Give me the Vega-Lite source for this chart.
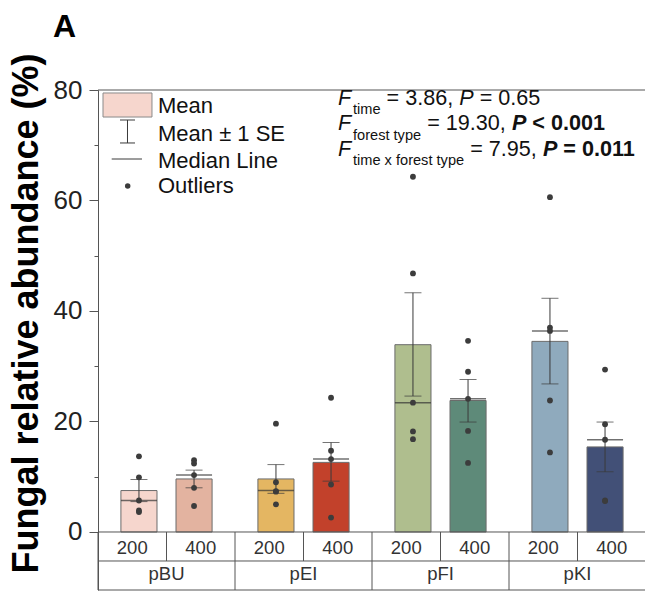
{
  "$schema": "https://vega.github.io/schema/vega-lite/v6.json",
  "autosize": {"type": "none"},
  "padding": {"left": 98, "top": 90, "right": 0, "bottom": 4},
  "width": 548,
  "height": 500,
  "config": {"view": {"stroke": null}, "font": "Liberation Sans"},
  "datasets": {
    "summary": [
      {"group": "pBU", "time": "200", "cell": "pBU 200", "mean": 7.5, "se_low": 5.5, "se_high": 9.5, "median": 5.7},
      {"group": "pBU", "time": "400", "cell": "pBU 400", "mean": 9.6, "se_low": 8.0, "se_high": 11.2, "median": 10.3},
      {"group": "pEI", "time": "200", "cell": "pEI 200", "mean": 9.6, "se_low": 7.0, "se_high": 12.2, "median": 7.5},
      {"group": "pEI", "time": "400", "cell": "pEI 400", "mean": 12.6, "se_low": 9.2, "se_high": 16.2, "median": 13.2},
      {"group": "pFI", "time": "200", "cell": "pFI 200", "mean": 33.9, "se_low": 24.6, "se_high": 43.3, "median": 23.4},
      {"group": "pFI", "time": "400", "cell": "pFI 400", "mean": 23.8, "se_low": 19.9, "se_high": 27.6, "median": 24.1},
      {"group": "pKI", "time": "200", "cell": "pKI 200", "mean": 34.5, "se_low": 26.8, "se_high": 42.3, "median": 36.4},
      {"group": "pKI", "time": "400", "cell": "pKI 400", "mean": 15.4, "se_low": 10.9, "se_high": 19.9, "median": 16.7}
    ],
    "points": [
      {"group": "pBU", "time": "200", "value": 13.7}, {"group": "pBU", "time": "200", "value": 9.9}, {"group": "pBU", "time": "200", "value": 5.7}, {"group": "pBU", "time": "200", "value": 3.9}, {"group": "pBU", "time": "200", "value": 3.6},
      {"group": "pBU", "time": "400", "value": 13.0}, {"group": "pBU", "time": "400", "value": 12.4}, {"group": "pBU", "time": "400", "value": 10.3}, {"group": "pBU", "time": "400", "value": 8.0}, {"group": "pBU", "time": "400", "value": 4.7},
      {"group": "pEI", "time": "200", "value": 19.6}, {"group": "pEI", "time": "200", "value": 9.0}, {"group": "pEI", "time": "200", "value": 7.4}, {"group": "pEI", "time": "200", "value": 7.3}, {"group": "pEI", "time": "200", "value": 5.0},
      {"group": "pEI", "time": "400", "value": 24.3}, {"group": "pEI", "time": "400", "value": 14.7}, {"group": "pEI", "time": "400", "value": 13.2}, {"group": "pEI", "time": "400", "value": 8.6}, {"group": "pEI", "time": "400", "value": 2.6},
      {"group": "pFI", "time": "200", "value": 64.3}, {"group": "pFI", "time": "200", "value": 46.8}, {"group": "pFI", "time": "200", "value": 23.4}, {"group": "pFI", "time": "200", "value": 18.2}, {"group": "pFI", "time": "200", "value": 16.8},
      {"group": "pFI", "time": "400", "value": 34.6}, {"group": "pFI", "time": "400", "value": 29.0}, {"group": "pFI", "time": "400", "value": 24.1}, {"group": "pFI", "time": "400", "value": 18.3}, {"group": "pFI", "time": "400", "value": 12.5},
      {"group": "pKI", "time": "200", "value": 60.6}, {"group": "pKI", "time": "200", "value": 37.0}, {"group": "pKI", "time": "200", "value": 36.4}, {"group": "pKI", "time": "200", "value": 23.8}, {"group": "pKI", "time": "200", "value": 14.4},
      {"group": "pKI", "time": "400", "value": 29.4}, {"group": "pKI", "time": "400", "value": 19.5}, {"group": "pKI", "time": "400", "value": 16.7}, {"group": "pKI", "time": "400", "value": 5.7}, {"group": "pKI", "time": "400", "value": 5.6}
    ]
  },
  "layer": [
    {
      "data": {"name": "summary"},
      "layer": [
        {
          "mark": {"type": "bar", "stroke": "#6b6b6b", "strokeWidth": 1},
          "encoding": {
            "x": {"field": "group", "type": "nominal", "scale": {"domain": ["pBU", "pEI", "pFI", "pKI"], "paddingInner": 0, "paddingOuter": 0}, "axis": null},
            "xOffset": {"field": "time", "type": "nominal", "scale": {"domain": ["200", "400"], "paddingInner": 0.345, "paddingOuter": 0.416}},
            "y": {
              "field": "mean", "type": "quantitative",
              "scale": {"domain": [-10.5, 80], "nice": false, "zero": false},
              "title": "Fungal relative abundance (%)",
              "axis": {
                "values": [0, 10, 20, 30, 40, 50, 60, 70, 80],
                "labelExpr": "datum.value % 20 === 0 ? datum.label : ''",
                "tickSize": {"condition": {"test": "datum.value % 20 === 0", "value": 9}, "value": 4},
                "labelFontSize": 26, "labelColor": "#222", "labelPadding": 7,
                "tickColor": "#555", "domainColor": "#555", "grid": false,
                "titleFontSize": 36, "titleFontWeight": "bold", "titleColor": "#000",
                "titleX": -61, "titleY": 223, "titleBaseline": "alphabetic", "titleAngle": -90, "titleAlign": "center"
              }
            },
            "y2": {"datum": 0},
            "color": {
              "field": "cell", "type": "nominal", "legend": null,
              "scale": {
                "domain": ["pBU 200", "pBU 400", "pEI 200", "pEI 400", "pFI 200", "pFI 400", "pKI 200", "pKI 400"],
                "range": ["#f6d6cd", "#e3b3a0", "#e4b662", "#c2412b", "#afbe8e", "#5e8a79", "#8faabd", "#425077"]
              }
            }
          }
        },
        {
          "mark": {"type": "rule", "color": "#3a3a3a", "strokeWidth": 1},
          "encoding": {
            "x": {"field": "group", "type": "nominal", "axis": null},
            "xOffset": {"field": "time", "type": "nominal"},
            "y": {"field": "se_low", "type": "quantitative"},
            "y2": {"field": "se_high"}
          }
        },
        {
          "mark": {"type": "tick", "color": "#3a3a3a", "thickness": 1, "size": 17},
          "encoding": {
            "x": {"field": "group", "type": "nominal", "axis": null},
            "xOffset": {"field": "time", "type": "nominal"},
            "y": {"field": "se_high", "type": "quantitative"}
          }
        },
        {
          "mark": {"type": "tick", "color": "#3a3a3a", "thickness": 1, "size": 17},
          "encoding": {
            "x": {"field": "group", "type": "nominal", "axis": null},
            "xOffset": {"field": "time", "type": "nominal"},
            "y": {"field": "se_low", "type": "quantitative"}
          }
        },
        {
          "mark": {"type": "tick", "color": "#333", "thickness": 1.5, "size": 36},
          "encoding": {
            "x": {"field": "group", "type": "nominal", "axis": null},
            "xOffset": {"field": "time", "type": "nominal"},
            "y": {"field": "median", "type": "quantitative"}
          }
        },
        {
          "data": {"name": "points"},
          "mark": {"type": "circle", "size": 34, "color": "#3c3c3c", "opacity": 1},
          "encoding": {
            "x": {"field": "group", "type": "nominal", "axis": null},
            "xOffset": {"field": "time", "type": "nominal"},
            "y": {"field": "value", "type": "quantitative"}
          }
        },
        {
          "transform": [{"filter": "datum.time === '200'"}],
          "mark": {"type": "rule", "color": "#555", "strokeWidth": 1},
          "encoding": {
            "x": {"field": "group", "type": "nominal", "bandPosition": 0, "axis": null},
            "y": {"datum": 0},
            "y2": {"datum": -10.5}
          }
        },
        {
          "transform": [{"filter": "datum.time === '200'"}],
          "mark": {"type": "rule", "color": "#555", "strokeWidth": 1},
          "encoding": {
            "x": {"field": "group", "type": "nominal", "bandPosition": 0.5, "axis": null},
            "y": {"datum": 0},
            "y2": {"datum": -5.25}
          }
        },
        {
          "transform": [{"filter": "datum.time === '200'"}],
          "mark": {"type": "text", "fontSize": 18.5, "color": "#333", "baseline": "alphabetic", "align": "center"},
          "encoding": {
            "x": {"field": "group", "type": "nominal", "bandPosition": 0.25, "axis": null},
            "y": {"datum": -4.07},
            "text": {"field": "time"}
          }
        },
        {
          "transform": [{"filter": "datum.time === '400'"}],
          "mark": {"type": "text", "fontSize": 18.5, "color": "#333", "baseline": "alphabetic", "align": "center"},
          "encoding": {
            "x": {"field": "group", "type": "nominal", "bandPosition": 0.75, "axis": null},
            "y": {"datum": -4.07},
            "text": {"field": "time"}
          }
        },
        {
          "transform": [{"filter": "datum.time === '200'"}],
          "mark": {"type": "text", "fontSize": 18.5, "color": "#333", "baseline": "alphabetic", "align": "center"},
          "encoding": {
            "x": {"field": "group", "type": "nominal", "bandPosition": 0.5, "axis": null},
            "y": {"datum": -8.78},
            "text": {"field": "group"}
          }
        }
      ]
    },
    {
      "data": {"values": [{}]},
      "layer": [
        {"mark": {"type": "rule", "color": "#555", "strokeWidth": 1}, "encoding": {"y": {"datum": 80}}},
        {"mark": {"type": "rule", "color": "#555", "strokeWidth": 1}, "encoding": {"y": {"datum": 0}}},
        {"mark": {"type": "rule", "color": "#555", "strokeWidth": 1}, "encoding": {"y": {"datum": -5.25}}},
        {"mark": {"type": "rule", "color": "#555", "strokeWidth": 1}, "encoding": {"y": {"datum": -10.5}}},
        {
          "mark": {"type": "rect", "fill": "#f6d6cd", "stroke": "#8a8a8a", "strokeWidth": 1},
          "encoding": {
            "x": {"datum": 0.0365, "type": "quantitative", "scale": {"domain": [0, 4]}, "axis": null},
            "x2": {"datum": 0.394},
            "y": {"datum": 79.46},
            "y2": {"datum": 75.11}
          }
        },
        {
          "mark": {"type": "rule", "color": "#3a3a3a", "strokeWidth": 1},
          "encoding": {
            "x": {"datum": 0.2153, "type": "quantitative", "scale": {"domain": [0, 4]}, "axis": null},
            "y": {"datum": 74.57},
            "y2": {"datum": 70.41}
          }
        },
        {
          "mark": {"type": "rule", "color": "#3a3a3a", "strokeWidth": 1},
          "encoding": {
            "x": {"datum": 0.1606, "type": "quantitative", "scale": {"domain": [0, 4]}, "axis": null},
            "x2": {"datum": 0.2701},
            "y": {"datum": 74.57}
          }
        },
        {
          "mark": {"type": "rule", "color": "#3a3a3a", "strokeWidth": 1},
          "encoding": {
            "x": {"datum": 0.1606, "type": "quantitative", "scale": {"domain": [0, 4]}, "axis": null},
            "x2": {"datum": 0.2701},
            "y": {"datum": 70.41}
          }
        },
        {
          "mark": {"type": "rule", "color": "#3a3a3a", "strokeWidth": 1},
          "encoding": {
            "x": {"datum": 0.1, "type": "quantitative", "scale": {"domain": [0, 4]}, "axis": null},
            "x2": {"datum": 0.321},
            "y": {"datum": 67.51}
          }
        },
        {
          "mark": {"type": "circle", "size": 30, "color": "#3c3c3c", "opacity": 1},
          "encoding": {
            "x": {"datum": 0.2168, "type": "quantitative", "scale": {"domain": [0, 4]}, "axis": null},
            "y": {"datum": 62.62}
          }
        },
        {
          "mark": {"type": "text", "text": "Mean", "fontSize": 22, "align": "left", "baseline": "alphabetic", "color": "#111"},
          "encoding": {"x": {"datum": 0.438, "type": "quantitative", "scale": {"domain": [0, 4]}, "axis": null}, "y": {"datum": 75.75}}
        },
        {
          "mark": {"type": "text", "text": "Mean ± 1 SE", "fontSize": 22, "align": "left", "baseline": "alphabetic", "color": "#111"},
          "encoding": {"x": {"datum": 0.438, "type": "quantitative", "scale": {"domain": [0, 4]}, "axis": null}, "y": {"datum": 70.77}}
        },
        {
          "mark": {"type": "text", "text": "Median Line", "fontSize": 22, "align": "left", "baseline": "alphabetic", "color": "#111"},
          "encoding": {"x": {"datum": 0.438, "type": "quantitative", "scale": {"domain": [0, 4]}, "axis": null}, "y": {"datum": 65.97}}
        },
        {
          "mark": {"type": "text", "text": "Outliers", "fontSize": 22, "align": "left", "baseline": "alphabetic", "color": "#111"},
          "encoding": {"x": {"datum": 0.438, "type": "quantitative", "scale": {"domain": [0, 4]}, "axis": null}, "y": {"datum": 61.27}}
        },
        {
          "mark": {"type": "text", "text": "A", "fontSize": 32, "fontWeight": "bold", "align": "left", "baseline": "alphabetic", "color": "#000"},
          "encoding": {"x": {"datum": -0.3285, "type": "quantitative", "scale": {"domain": [0, 4]}, "axis": null}, "y": {"datum": 89.59}}
        },
        {
          "mark": {"type": "text", "text": "F", "fontSize": 21.6, "fontStyle": "italic", "align": "left", "baseline": "alphabetic", "color": "#111"},
          "encoding": {"x": {"datum": 1.7518, "type": "quantitative", "scale": {"domain": [0, 4]}, "axis": null}, "y": {"datum": 77.285}}
        },
        {
          "mark": {"type": "text", "text": "time", "fontSize": 14.6, "align": "left", "baseline": "alphabetic", "color": "#111"},
          "encoding": {"x": {"datum": 1.8613, "type": "quantitative", "scale": {"domain": [0, 4]}, "axis": null}, "y": {"datum": 75.566}}
        },
        {
          "mark": {"type": "text", "text": "= 3.86,", "fontSize": 21.6, "align": "left", "baseline": "alphabetic", "color": "#111"},
          "encoding": {"x": {"datum": 2.1066, "type": "quantitative", "scale": {"domain": [0, 4]}, "axis": null}, "y": {"datum": 77.285}}
        },
        {
          "mark": {"type": "text", "text": "P", "fontSize": 21.6, "fontStyle": "italic", "align": "left", "baseline": "alphabetic", "color": "#111"},
          "encoding": {"x": {"datum": 2.6372, "type": "quantitative", "scale": {"domain": [0, 4]}, "axis": null}, "y": {"datum": 77.285}}
        },
        {
          "mark": {"type": "text", "text": "= 0.65", "fontSize": 21.6, "align": "left", "baseline": "alphabetic", "color": "#111"},
          "encoding": {"x": {"datum": 2.7861, "type": "quantitative", "scale": {"domain": [0, 4]}, "axis": null}, "y": {"datum": 77.285}}
        },
        {
          "mark": {"type": "text", "text": "F", "fontSize": 21.6, "fontStyle": "italic", "align": "left", "baseline": "alphabetic", "color": "#111"},
          "encoding": {"x": {"datum": 1.7518, "type": "quantitative", "scale": {"domain": [0, 4]}, "axis": null}, "y": {"datum": 72.67}}
        },
        {
          "mark": {"type": "text", "text": "forest type", "fontSize": 14.6, "align": "left", "baseline": "alphabetic", "color": "#111"},
          "encoding": {"x": {"datum": 1.8613, "type": "quantitative", "scale": {"domain": [0, 4]}, "axis": null}, "y": {"datum": 70.95}}
        },
        {
          "mark": {"type": "text", "text": "= 19.30,", "fontSize": 21.6, "align": "left", "baseline": "alphabetic", "color": "#111"},
          "encoding": {"x": {"datum": 2.4029, "type": "quantitative", "scale": {"domain": [0, 4]}, "axis": null}, "y": {"datum": 72.67}}
        },
        {
          "mark": {"type": "text", "text": "P", "fontSize": 21.6, "fontStyle": "italic", "fontWeight": "bold", "align": "left", "baseline": "alphabetic", "color": "#111"},
          "encoding": {"x": {"datum": 3.0212, "type": "quantitative", "scale": {"domain": [0, 4]}, "axis": null}, "y": {"datum": 72.67}}
        },
        {
          "mark": {"type": "text", "text": "< 0.001", "fontSize": 21.6, "fontWeight": "bold", "align": "left", "baseline": "alphabetic", "color": "#111"},
          "encoding": {"x": {"datum": 3.1701, "type": "quantitative", "scale": {"domain": [0, 4]}, "axis": null}, "y": {"datum": 72.67}}
        },
        {
          "mark": {"type": "text", "text": "F", "fontSize": 21.6, "fontStyle": "italic", "align": "left", "baseline": "alphabetic", "color": "#111"},
          "encoding": {"x": {"datum": 1.7518, "type": "quantitative", "scale": {"domain": [0, 4]}, "axis": null}, "y": {"datum": 68.054}}
        },
        {
          "mark": {"type": "text", "text": "time x forest type", "fontSize": 14.6, "align": "left", "baseline": "alphabetic", "color": "#111"},
          "encoding": {"x": {"datum": 1.8613, "type": "quantitative", "scale": {"domain": [0, 4]}, "axis": null}, "y": {"datum": 66.335}}
        },
        {
          "mark": {"type": "text", "text": "= 7.95,", "fontSize": 21.6, "align": "left", "baseline": "alphabetic", "color": "#111"},
          "encoding": {"x": {"datum": 2.7168, "type": "quantitative", "scale": {"domain": [0, 4]}, "axis": null}, "y": {"datum": 68.054}}
        },
        {
          "mark": {"type": "text", "text": "P", "fontSize": 21.6, "fontStyle": "italic", "fontWeight": "bold", "align": "left", "baseline": "alphabetic", "color": "#111"},
          "encoding": {"x": {"datum": 3.2474, "type": "quantitative", "scale": {"domain": [0, 4]}, "axis": null}, "y": {"datum": 68.054}}
        },
        {
          "mark": {"type": "text", "text": "= 0.011", "fontSize": 21.6, "fontWeight": "bold", "align": "left", "baseline": "alphabetic", "color": "#111"},
          "encoding": {"x": {"datum": 3.3964, "type": "quantitative", "scale": {"domain": [0, 4]}, "axis": null}, "y": {"datum": 68.054}}
        }
      ]
    }
  ],
  "resolve": {"scale": {"x": "independent"}}
}
